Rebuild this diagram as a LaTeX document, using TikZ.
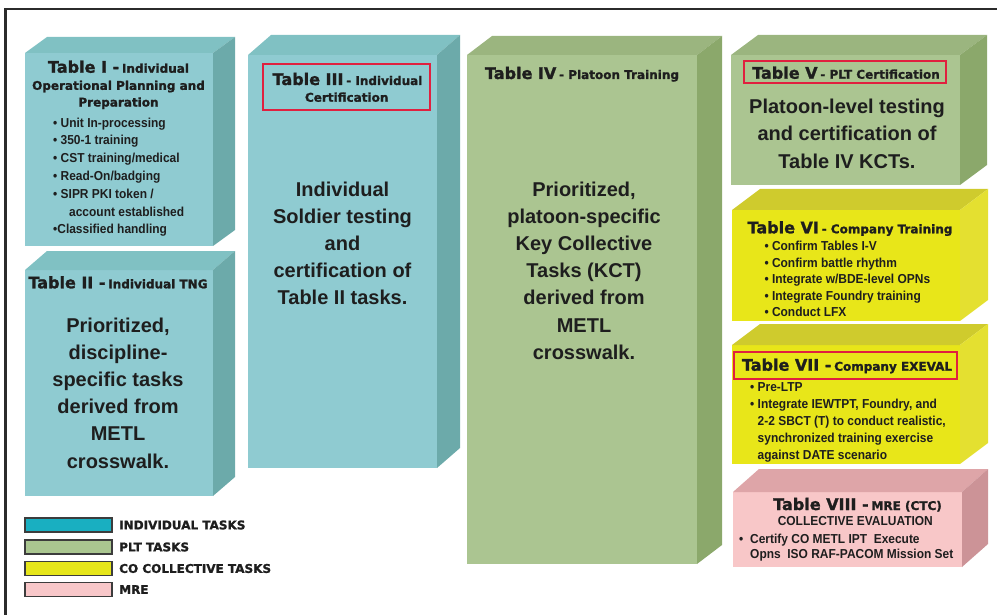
\documentclass[tikz,border=0pt]{standalone}
\usepackage{fontspec}
\setmainfont{Liberation Sans}
\newfontfamily\headfont[BoldFeatures={FakeBold=1.4}]{DejaVu Sans}
\newfontfamily\narrowfont[FakeStretch=0.92]{Liberation Sans}

\definecolor{txt}{HTML}{1E1E1E}
\definecolor{framecol}{HTML}{2B2B2B}
\definecolor{certred}{HTML}{E0203F}
\definecolor{swatchline}{HTML}{3C3C3C}
\definecolor{tealF}{HTML}{8FCBD1}
\definecolor{tealT}{HTML}{80C1C3}
\definecolor{tealS}{HTML}{6CAAAA}
\definecolor{greenF}{HTML}{ABC591}
\definecolor{greenT}{HTML}{9BB57F}
\definecolor{greenS}{HTML}{8BA86B}
\definecolor{yelF}{HTML}{E8E619}
\definecolor{yelT}{HTML}{CFCB2D}
\definecolor{yelS}{HTML}{E4E030}
\definecolor{pinkF}{HTML}{F8C7C8}
\definecolor{pinkT}{HTML}{DEA5A8}
\definecolor{pinkS}{HTML}{CC9397}
\definecolor{legteal}{HTML}{19AFC1}
\definecolor{leggreen}{HTML}{AAC690}
\definecolor{legyel}{HTML}{E6E61B}
\definecolor{legpink}{HTML}{F8C7C9}

\newcommand{\tabbig}{\headfont\bfseries\fontsize{16}{18}\selectfont}
\newcommand{\tabsub}{\headfont\bfseries\fontsize{12}{16.7}\selectfont}
% front face corners, depth, then front/top/side colours
\newcommand{\tablebox}[9]{%
  \fill[#7] (#1,#2) rectangle (#3,#4);
  \fill[#8] (#1,#2) -- ({#1+#5},{#2-#6}) -- ({#3+#5},{#2-#6}) -- (#3,#2) -- cycle;
  \fill[#9] (#3,#2) -- ({#3+#5},{#2-#6}) -- ({#3+#5},{#4-#6}) -- (#3,#4) -- cycle;
}

\begin{document}
\begin{tikzpicture}[x=1pt,y=-1pt,
  every node/.style={text=txt, inner sep=0pt},
  body/.style={font=\bfseries\fontsize{20}{27.2}\selectfont, align=center, anchor=north},
  bullets/.style={font=\narrowfont\bfseries\fontsize{13}{17.8}\selectfont, align=left, anchor=north west},
  head/.style={anchor=base},
  certbox/.style={draw=certred, line width=2pt},
  swatch/.style={draw=swatchline, line width=1.3pt},
  legend/.style={font=\tabsub, anchor=west}]
\useasboundingbox (0,0) rectangle (997,615);
\draw[framecol, line width=2.2pt] (5.5,615) -- (5.5,8.7) -- (997,8.7);

% individual tables
\tablebox{25}{53}{213}{246}{22}{16}{tealF}{tealT}{tealS}
\tablebox{25}{270}{213}{496}{22}{19}{tealF}{tealT}{tealS}
\tablebox{248}{55}{437}{468}{23}{20}{tealF}{tealT}{tealS}
% platoon tables
\tablebox{467}{55}{697}{564}{25}{19}{greenF}{greenT}{greenS}
\tablebox{731}{55}{960}{185}{27}{20}{greenF}{greenT}{greenS}
% company tables
\tablebox{732}{210}{960}{321}{28}{21}{yelF}{yelT}{yelS}
\tablebox{732}{345}{960}{464}{28}{21}{yelF}{yelT}{yelS}
% MRE
\tablebox{733}{492}{962}{567}{26}{23}{pinkF}{pinkT}{pinkS}

% Table I
\node[head] (t1head) at (118.5,72.7) {{\tabbig Table I -} {\tabsub Individual}};
\node[font=\tabsub, align=center, anchor=north] (t1sub) at (118.5,80.5) {Operational Planning and\\Preparation};
\node[bullets] (t1list) at (53,117.5) {• Unit In-processing\\• 350-1 training\\• CST training/medical\\• Read-On/badging\\• SIPR PKI token /\\\hspace*{16pt}account established\\•Classified handling};

% Table II
\node[head] (t2head) at (118,288.3) {{\tabbig Table II -} {\tabsub Individual TNG}};
\node[body] (t2body) at (118,317.5) {Prioritized,\\discipline-\\specific tasks\\derived from\\METL\\crosswalk.};

% Table III
\draw[certbox] (263,64) rectangle (430,110);
\node[head] (t3head) at (347.5,85) {{\tabbig Table III} {\tabsub - Individual}};
\node[head, font=\tabsub] (t3sub) at (346.7,101.7) {Certification};
\node[body] (t3body) at (342.5,181.5) {Individual\\Soldier testing\\and\\certification of\\Table II tasks.};

% Table IV
\node[head] (t4head) at (582,79) {{\tabbig Table IV} {\tabsub - Platoon Training}};
\node[body] (t4body) at (584,181.5) {Prioritized,\\platoon-specific\\Key Collective\\Tasks (KCT)\\derived from\\METL\\crosswalk.};

% Table V
\draw[certbox] (744,61) rectangle (946,83);
\node[head] (t5head) at (846,78.7) {{\tabbig Table V} {\tabsub - PLT Certification}};
\node[body, font=\bfseries\fontsize{20}{27.5}\selectfont] (t5body) at (847,98.5) {Platoon-level testing\\and certification of\\Table IV KCTs.};

% Table VI
\node[head] (t6head) at (850,233.3) {{\tabbig Table VI} {\tabsub - Company Training}};
\node[bullets, font=\narrowfont\bfseries\fontsize{13}{16.6}\selectfont] (t6list) at (764.3,240.8) {• Confirm Tables I-V\\• Confirm battle rhythm\\• Integrate w/BDE-level OPNs\\• Integrate Foundry training\\• Conduct LFX};

% Table VII
\draw[certbox] (734,352) rectangle (957,379);
\node[head] (t7head) at (847,370.7) {{\tabbig Table VII -} {\tabsub Company EXEVAL}};
\node[bullets, font=\narrowfont\bfseries\fontsize{13}{16.9}\selectfont] (t7list) at (750,382.5) {• Pre-LTP\\• Integrate IEWTPT, Foundry, and\\\hspace*{7.5pt}2-2 SBCT (T) to conduct realistic,\\\hspace*{7.5pt}synchronized training exercise\\\hspace*{7.5pt}against DATE scenario};

% Table VIII
\node[head] (t8head) at (857.5,510) {{\tabbig Table VIII -} {\tabsub MRE (CTC)}};
\node[head, font=\narrowfont\bfseries\fontsize{13}{14}\selectfont] (t8sub) at (855.3,525.7) {COLLECTIVE EVALUATION};
\node[bullets, font=\narrowfont\bfseries\fontsize{13}{15.7}\selectfont] (t8list) at (739,533.5) {•\hspace{6.8pt}Certify CO METL IPT\ \ Execute\\\hspace*{11pt}Opns\ \ ISO RAF-PACOM Mission Set};

% legend
\draw[swatch, fill=legteal] (25,518) rectangle (112,532);
\node[legend] (legind) at (119,525) {INDIVIDUAL TASKS};
\draw[swatch, fill=leggreen] (25,540) rectangle (112,554);
\node[legend] (legplt) at (119,547) {PLT TASKS};
\draw[swatch, fill=legyel] (25,561.5) rectangle (112,575.5);
\node[legend] (legco) at (119,568.5) {CO COLLECTIVE TASKS};
\draw[swatch, fill=legpink] (25,582.5) rectangle (112,596.5);
\node[legend] (legmre) at (119,589.5) {MRE};
\end{tikzpicture}
\end{document}
